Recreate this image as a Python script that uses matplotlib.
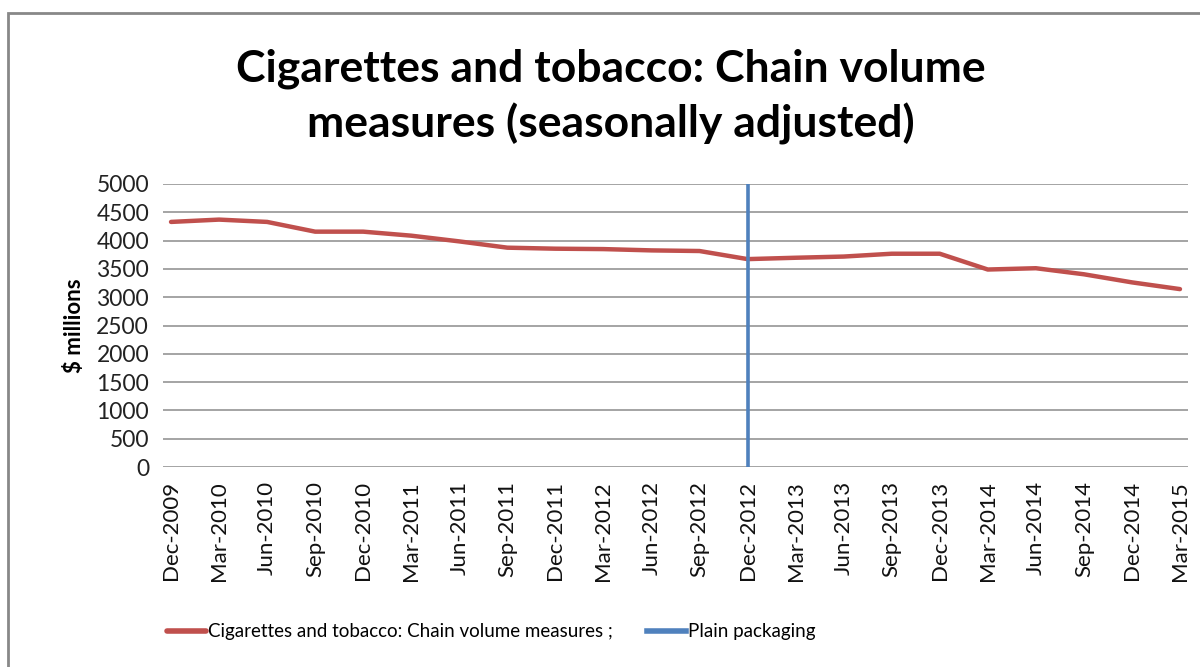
import matplotlib.pyplot as plt
from matplotlib.patches import Rectangle

quarters = ['Dec-2009', 'Mar-2010', 'Jun-2010', 'Sep-2010', 'Dec-2010',
            'Mar-2011', 'Jun-2011', 'Sep-2011', 'Dec-2011', 'Mar-2012',
            'Jun-2012', 'Sep-2012', 'Dec-2012', 'Mar-2013', 'Jun-2013',
            'Sep-2013', 'Dec-2013', 'Mar-2014', 'Jun-2014', 'Sep-2014',
            'Dec-2014', 'Mar-2015']
volume = [4330, 4371, 4330, 4158, 4158, 4087, 3986, 3875, 3857, 3850, 3827,
          3816, 3673, 3697, 3718, 3768, 3768, 3489, 3512, 3405, 3262, 3143]
plain_packaging_date = 'Dec-2012'
plain_packaging_range = [0, 5000]
y_ticks = list(range(0, 5001, 500))

red = '#C0504D'
blue = '#4F81BD'
font = 'Lato'

fig = plt.figure(figsize=(12, 6.67), dpi=100)
ax = fig.add_axes([163 / 1200, 1 - 467 / 667, (1188 - 163) / 1200, (467 - 184) / 667])

x = list(range(len(quarters)))
ax.plot(x, volume, color=red, lw=3.2, solid_capstyle='round',
        label='Cigarettes and tobacco: Chain volume measures ;')
pp = quarters.index(plain_packaging_date)
ax.plot([pp, pp], plain_packaging_range, color=blue, lw=2.6,
        label='Plain packaging')

ax.set_xlim(-0.167, len(quarters) - 1 + 0.167)
ax.set_ylim(0, 5000)
ax.set_yticks(y_ticks)
ax.set_yticklabels([str(v) for v in y_ticks], fontsize=16.5, family=font, color='#222222')
ax.set_xticks(x)
ax.set_xticklabels(quarters, rotation=90, fontsize=16, family=font, color='#111111')
ax.tick_params(length=0, pad=10)
ax.grid(axis='y', color='#8c8c8c', lw=1.1)
ax.set_axisbelow(True)
for s in ax.spines.values():
    s.set_visible(False)

ax.set_ylabel('$ millions', fontsize=16, fontweight='bold', family=font, labelpad=8)

fig.text(611 / 1200, 1 - 97 / 667,
         'Cigarettes and tobacco: Chain volume\nmeasures (seasonally adjusted)',
         ha='center', va='center', fontsize=32, fontweight='bold', family=font,
         linespacing=1.4)

leg = fig.legend(loc='center left', bbox_to_anchor=(150 / 1200, 1 - 632 / 667),
                 ncol=2, frameon=False, handlelength=2.1, handletextpad=0.1,
                 columnspacing=1.8, prop={'family': font, 'size': 13.5})
for line in leg.get_lines():
    line.set_linewidth(4)

fig.patches.append(Rectangle((8 / 1200, -0.1), 1.1, 1 - 13 / 667 + 0.1,
                             transform=fig.transFigure, fill=False,
                             edgecolor='#888888', lw=2))

fig.savefig('out.png', dpi=100)
